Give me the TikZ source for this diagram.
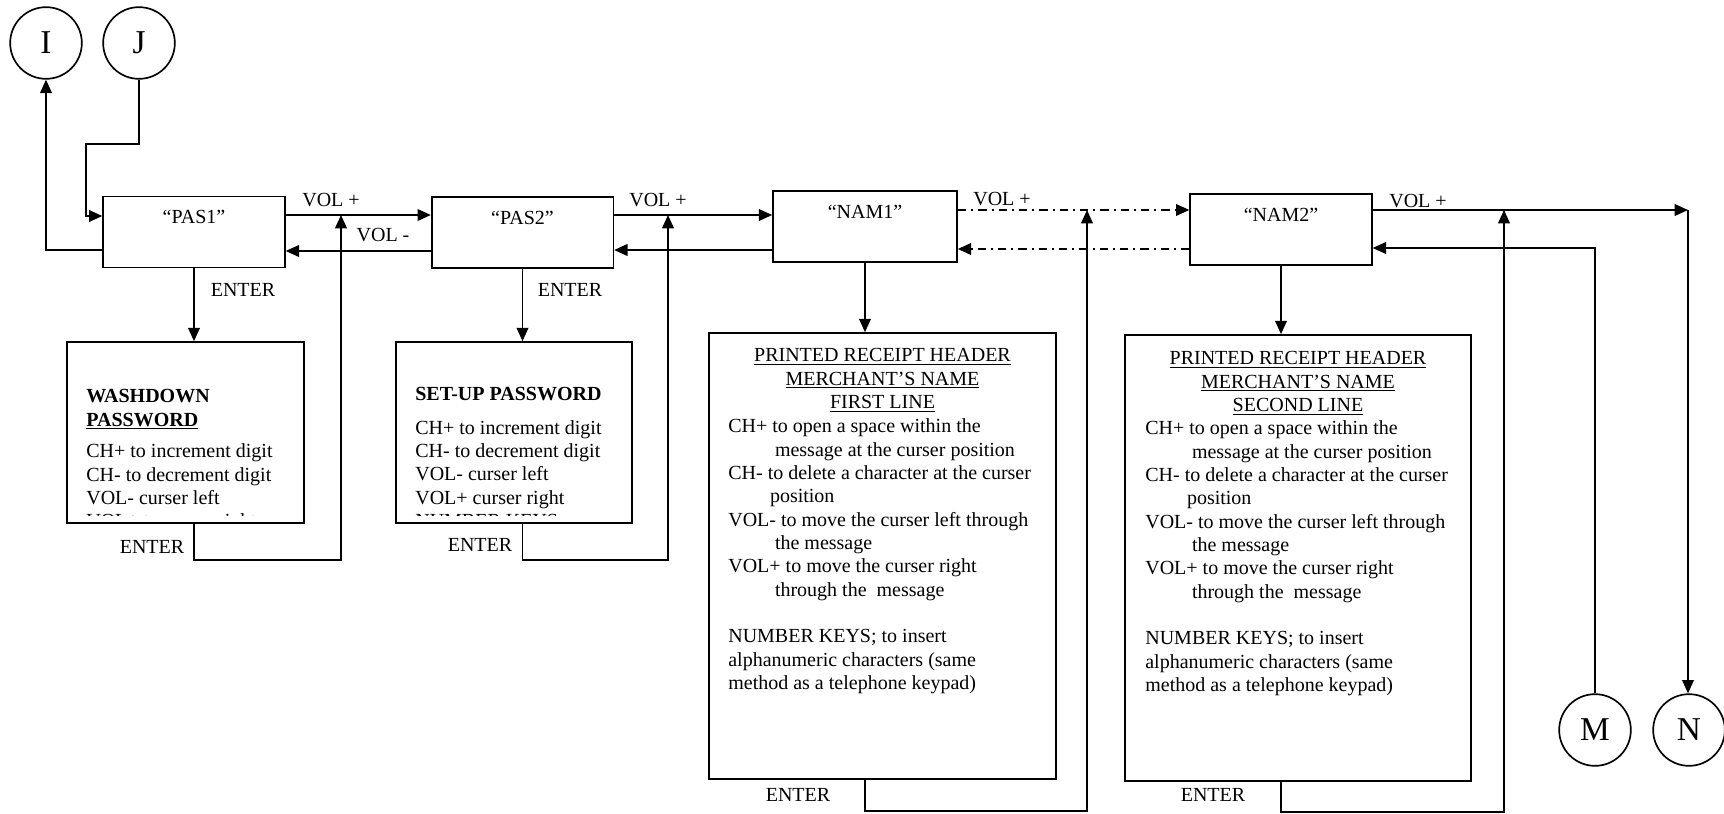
\documentclass[tikz,border=0pt]{standalone}
\usepackage{fontspec}
\setmainfont{Liberation Serif}
\usetikzlibrary{positioning,arrows.meta,calc}

\begin{document}
\begin{tikzpicture}[
  x=0.6pt, y=-0.6pt,
  every node/.style={font=\fontsize{12}{14}\selectfont},
  state/.style={
    rectangle,
    draw,
    line width=1pt,
    minimum width=109pt,
    text height=12.8pt,
    text depth=23pt
  },
  infobox/.style={rectangle, draw, line width=1pt, inner sep=0pt},
  info/.style={anchor=north west, align=left, inner sep=0pt},
  head/.style={anchor=north, align=center, inner sep=0pt},
  conn/.style={
    circle,
    draw,
    line width=1pt,
    inner sep=0pt,
    minimum size=43pt,
    font=\fontsize{20}{24}\selectfont
  },
  arr/.style={draw=black, line width=1pt, -{Triangle[length=8pt,width=7pt]}},
  dashrail/.style={dash pattern=on 5pt off 3pt on 1.2pt off 3pt}
]
  \useasboundingbox (0,0) rectangle (1724,814);

  \node[conn] (I) at (46,43) {I};
  \node[conn] (J) at (139,43) {J};
  \node[conn] (M) at (1595,730) {M};
  \node[conn] (N) at (1689,730) {N};

  \node[state] (pas1) at (194,232) {“PAS1”};
  \node[state] (pas2) at (522.5,232.5) {“PAS2”};
  \node[state, minimum width=110.4pt] (nam1) at (865,226.5) {“NAM1”};
  \node[state] (nam2) at (1281,229.5) {“NAM2”};

  \node[infobox, minimum width=142.2pt, minimum height=108.6pt] (wash) at (185.5,432.5) {};
  \node[infobox, minimum width=141.6pt, minimum height=108.6pt] (setup) at (514,432.5) {};
  \node[infobox, minimum width=208.2pt, minimum height=267.6pt] (prn1) at (882.5,556) {};
  \node[infobox, minimum width=207.6pt, minimum height=267.6pt] (prn2) at (1298,558) {};

  \begin{scope}
    \clip (wash.north west) rectangle ($(wash.south east)+(0,-8)$);
    \node[info] (washtxt) at (86,386) {\strut\textbf{WASHDOWN}\\
      \textbf{\underline{PASSWORD}}\\[5pt]
      CH+ to increment digit\\
      CH- to decrement digit\\
      VOL- curser left\\
      VOL+ to curser right};
  \end{scope}
  \begin{scope}
    \clip (setup.north west) rectangle ($(setup.south east)+(0,-8)$);
    \node[info] (setuptxt) at (415,384) {\strut\textbf{SET-UP PASSWORD}\\[6pt]
      CH+ to increment digit\\
      CH- to decrement digit\\
      VOL- curser left\\
      VOL+ curser right\\
      NUMBER KEYS};
  \end{scope}

  \node[head] (head1) at (882.5,345) {\strut\underline{PRINTED RECEIPT HEADER}\\
    \underline{MERCHANT’S NAME}\\
    \underline{FIRST LINE}};
  \node[info] (body1) at (728,416) {\strut CH+ to open a space within the\\
    \hspace*{28pt}message at the curser position\\
    CH- to delete a character at the curser\\
    \hspace*{25pt}position\\
    VOL- to move the curser left through\\
    \hspace*{28pt}the message\\
    VOL+ to move the curser right\\
    \hspace*{28pt}through the\ \ message\\[14pt]
    NUMBER KEYS; to insert\\
    alphanumeric characters (same\\
    method as a telephone keypad)};

  \node[head] (head2) at (1298,348) {\strut\underline{PRINTED RECEIPT HEADER}\\
    \underline{MERCHANT’S NAME}\\
    \underline{SECOND LINE}};
  \node[info] (body2) at (1145,418) {\strut CH+ to open a space within the\\
    \hspace*{28pt}message at the curser position\\
    CH- to delete a character at the curser\\
    \hspace*{25pt}position\\
    VOL- to move the curser left through\\
    \hspace*{28pt}the message\\
    VOL+ to move the curser right\\
    \hspace*{28pt}through the\ \ message\\[14pt]
    NUMBER KEYS; to insert\\
    alphanumeric characters (same\\
    method as a telephone keypad)};

  \coordinate (j1) at (341,215);
  \coordinate (j2) at (668,215);
  \coordinate (j3) at (1087,210);
  \coordinate (j4) at (1504,210);
  \coordinate (c5) at (1688,210);

  \node (v1) at (331,200) {VOL +};
  \node (v2) at (383,235) {VOL -};
  \node (v3) at (658,200) {VOL +};
  \node (v4) at (1002,199) {VOL +};
  \node (v5) at (1418,201) {VOL +};
  \node (e1) at (243,290) {ENTER};
  \node (e2) at (570,290) {ENTER};
  \node (e3) at (152,547) {ENTER};
  \node (e4) at (480,545) {ENTER};
  \node (e5) at (798,795) {ENTER};
  \node (e6) at (1213,795) {ENTER};

  \draw[arr] (pas1.east |- j1) -- (pas2.west |- j1);
  \draw[arr] (pas2.west |- 0,251) -- (pas1.east |- 0,251);
  \draw[arr] (pas2.east |- j2) -- (nam1.west |- j2);
  \draw[arr] (nam1.west |- 0,250) -- (pas2.east |- 0,250);
  \draw[arr, dashrail] (nam1.east |- j3) -- (nam2.west |- j3);
  \draw[arr, dashrail] (nam2.west |- 0,249) -- (nam1.east |- 0,249);
  \draw[arr] (nam2.east |- c5) -- (c5);
  \draw[arr] (c5) -- (c5 |- N.north);
  \draw[arr] (M.north) |- (nam2.east |- 0,248);

  \draw[arr] (pas1.west |- 0,250) -| (I.south);
  \draw[arr] (J.south) -- (J.south |- 0,144) -| (86,216) -- (pas1.west |- 0,216);

  \draw[arr] (pas1.south) -- (wash.north -| pas1.south);
  \draw[arr] (pas2.south) -- (setup.north -| pas2.south);
  \draw[arr] (nam1.south) -- (prn1.north -| nam1.south);
  \draw[arr] (nam2.south) -- (prn2.north -| nam2.south);

  \draw[arr] (wash.south -| pas1.south) |- (j1 |- 0,560) -- (j1);
  \draw[arr] (setup.south -| pas2.south) |- (j2 |- 0,560) -- (j2);
  \draw[arr] (prn1.south -| nam1.south) |- (j3 |- 0,811) -- (j3);
  \draw[arr] (prn2.south -| nam2.south) |- (j4 |- 0,812) -- (j4);
\end{tikzpicture}
\end{document}
